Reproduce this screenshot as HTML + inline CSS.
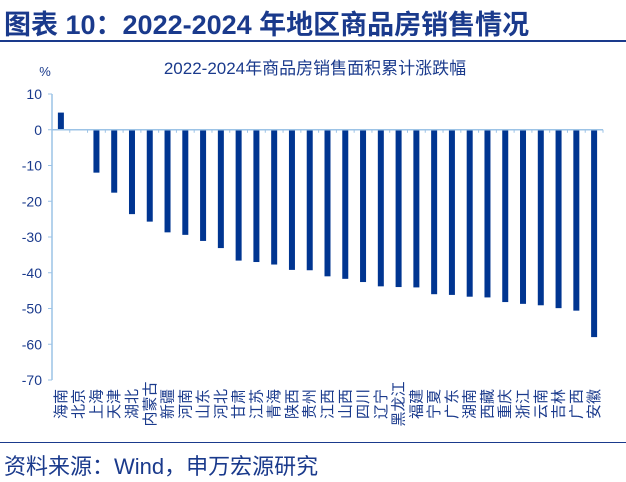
<!DOCTYPE html>
<html><head><meta charset="utf-8">
<style>
body{margin:0;width:626px;height:482px;background:#fff;overflow:hidden;font-family:"Liberation Sans","Noto Sans CJK SC",sans-serif;position:relative}
.t{position:absolute;white-space:nowrap}
</style></head><body>
<div class="t" style="left:4px;top:3px;font-size:27px;font-weight:bold;color:#1a3a8c;">图表 10：2022-2024 年地区商品房销售情况</div>
<div style="position:absolute;left:0;top:40px;width:626px;height:2px;background:#1a3a8c"></div>
<div style="position:absolute;left:0;top:442px;width:626px;height:1px;background:#1a3a8c"></div>
<div class="t" style="left:4px;top:449px;font-size:22px;color:#1a3a8c;">资料来源：Wind，申万宏源研究</div>
<svg id="c" width="626" height="482" style="position:absolute;left:0;top:0">
<text x="315" y="74" text-anchor="middle" font-size="17" fill="#1a3a8c">2022-2024年商品房销售面积累计涨跌幅</text>
<text x="45" y="76" text-anchor="middle" font-size="13" fill="#1a3a8c">%</text>
</svg>
<script>
const categories=["海南","北京","上海","天津","湖北","内蒙古","新疆","河南","山东","河北","甘肃","江苏","青海","陕西","贵州","江西","山西","四川","辽宁","黑龙江","福建","宁夏","广东","湖南","西藏","重庆","浙江","云南","吉林","广西","安徽"];
const values=[4.8,-0.1,-12.0,-17.6,-23.6,-25.7,-28.7,-29.4,-31.1,-33.1,-36.6,-37.0,-37.7,-39.2,-39.3,-41.0,-41.7,-42.6,-43.8,-44.0,-44.1,-46.0,-46.2,-46.7,-46.9,-48.2,-48.7,-49.1,-49.9,-50.6,-58.0];
const yTicks=[10,0,-10,-20,-30,-40,-50,-60,-70];
const svg=document.getElementById('c');const NS='http://www.w3.org/2000/svg';
const x0=52,x1=603,yTop=94,yBot=380,vMax=10,vMin=-70;
function y(v){return yTop+(vMax-v)/(vMax-vMin)*(yBot-yTop);}
const step=(x1-x0)/categories.length;
function xc(i){return x0+step*(i+0.5);}
function mk(t,a){const e=document.createElementNS(NS,t);for(const k in a)e.setAttribute(k,a[k]);svg.appendChild(e);return e;}
let ax=mk('line',{x1:x0,y1:yTop,x2:x0,y2:yBot,stroke:'#9cc3e6','stroke-width':1.5});


yTicks.forEach(v=>{
 const tk=mk('line',{x1:x0-4,y1:y(v),x2:x0,y2:y(v),stroke:'#9cc3e6','stroke-width':1});
 
 
 const t=mk('text',{x:x0-10,y:y(v)+5,'text-anchor':'end','font-size':14,fill:'#1a3a8c'});
 t.textContent=v;
 
 
});
values.forEach((v,i)=>{
 const yy=Math.min(y(v),y(0)),h=Math.abs(y(v)-y(0));
 const r=mk('rect',{x:xc(i)-3,y:yy,width:6,height:Math.max(h,0.5),fill:'#003591'});
 
 
});
let xa=mk('line',{x1:x0,y1:y(0),x2:x1,y2:y(0),stroke:'#9cc3e6','stroke-width':1.5});


for(let i=0;i<=categories.length;i++){
 const tk=mk('line',{x1:x0+step*i,y1:y(0),x2:x0+step*i,y2:y(0)+3,stroke:'#9cc3e6','stroke-width':1});
 
 
}
categories.forEach((c,i)=>{
 const cx=xc(i)+5,cy=404;
 const t=mk('text',{x:cx,y:cy,'text-anchor':'middle','font-size':15,fill:'#1a3a8c',transform:'rotate(-90 '+cx+' '+cy+')'});
 t.textContent=c;
 
 
});
</script>
</body></html>
